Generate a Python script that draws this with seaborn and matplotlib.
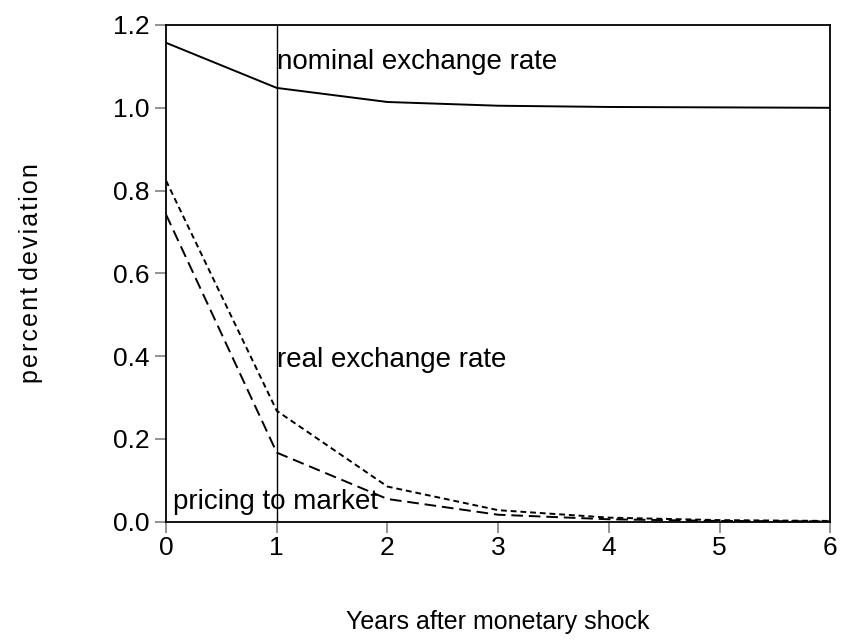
import matplotlib
matplotlib.use("Agg")
import matplotlib.pyplot as plt
import pandas as pd
import seaborn as sns

# years after the shock
years = [0, 1, 2, 3, 4, 5, 6]
# percent deviation
nominal = [1.157, 1.048, 1.014, 1.005, 1.002, 1.001, 1.000]
real = [0.824, 0.268, 0.085, 0.028, 0.010, 0.004, 0.002]
ptm = [0.742, 0.167, 0.055, 0.017, 0.006, 0.002, 0.001]

series_names = ["nominal", "real", "ptm"]

df = pd.concat([
    pd.DataFrame({"year": years, "value": nominal, "series": "nominal"}),
    pd.DataFrame({"year": years, "value": real, "series": "real"}),
    pd.DataFrame({"year": years, "value": ptm, "series": "ptm"}),
])

sns.set_style("ticks")
plt.rcParams["font.family"] = ["Liberation Sans", "DejaVu Sans"]
plt.rcParams["text.color"] = "black"
plt.rcParams["axes.labelcolor"] = "black"
plt.rcParams["xtick.color"] = "black"
plt.rcParams["ytick.color"] = "black"

fig = plt.figure(figsize=(8.43, 6.41), dpi=100)
ax = fig.add_axes([0.197, 0.186, 0.788, 0.775])

sns.lineplot(data=df, x="year", y="value", style="series",
             style_order=series_names,
             dashes={"nominal": "", "real": (3, 2), "ptm": (6, 3)},
             color="black", linewidth=1.4, legend=False, ax=ax)

ax.axvline(1, color="black", linewidth=1.0)

ax.set_xlim(0, 6)
ax.set_ylim(0, 1.2)
ax.set_xticks(years)
ax.set_yticks([0.0, 0.2, 0.4, 0.6, 0.8, 1.0, 1.2])
ax.set_yticklabels(["0.0", "0.2", "0.4", "0.6", "0.8", "1.0", "1.2"])
ax.tick_params(axis="both", labelsize=19, length=8, width=1.2)
ax.tick_params(axis="both", which="major", color="gray")
ax.tick_params(axis="y", pad=4)
ax.tick_params(axis="x", pad=2)
for s in ax.spines.values():
    s.set_visible(True)
    s.set_color("black")
    s.set_linewidth(1.3)

ax.set_xlabel("Years after monetary shock", fontsize=18, labelpad=36)
ax.set_ylabel("p e r c e n t   d e v i a t i o n".replace(" ", "\u200a").replace("\u200a\u200a\u200a", " "),
              fontsize=18, labelpad=50)

ax.text(1.0, 1.11, "nominal exchange rate", fontsize=20, va="center", ha="left")
ax.text(1.0, 0.39, "real exchange rate", fontsize=20, va="center", ha="left")
ax.text(0.06, 0.048, "pricing to market", fontsize=20, va="center", ha="left")

fig.savefig("out.png", dpi=100)
